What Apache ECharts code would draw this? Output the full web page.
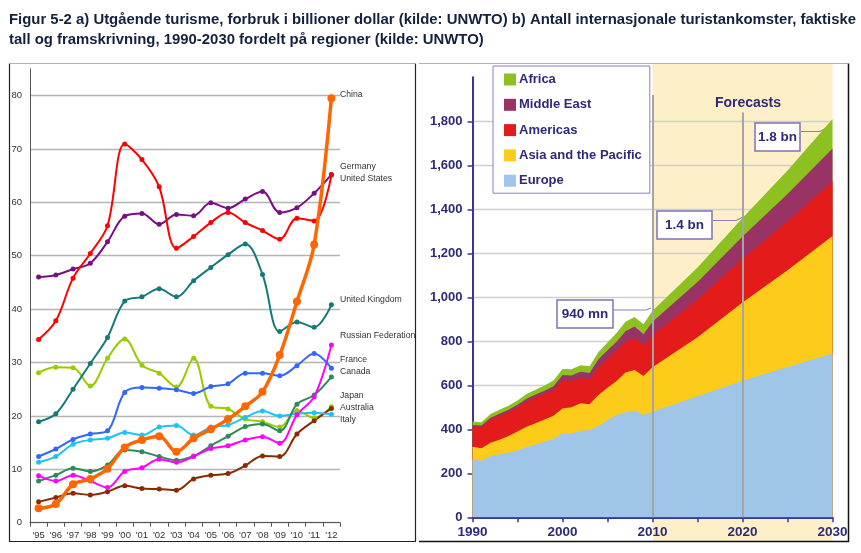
<!DOCTYPE html>
<html><head><meta charset="utf-8">
<script src="https://cdn.jsdelivr.net/npm/echarts@6/dist/echarts.min.js"></script>
<style>html,body{margin:0;padding:0;background:#fff}#c{width:861px;height:553px}</style>
</head><body><div id="c"></div>
<script>
// ---------- Panel a: outbound tourism spending (billion USD) ----------
const leftCats = ["'95","'96","'97","'98","'99","'00","'01","'02","'03","'04","'05","'06","'07","'08","'09","'10","'11","'12"];
const china     = [2.7, 3.5, 7.2, 8.2, 10.1, 14.1, 15.5, 16.2, 13.3, 15.8, 17.5, 19.4, 21.8, 24.5, 31.4, 41.4, 52.1, 79.5];
const germany   = [46.0, 46.4, 47.5, 48.6, 52.6, 57.4, 57.9, 55.9, 57.7, 57.5, 59.9, 58.9, 60.6, 62.0, 58.1, 59.0, 61.7, 65.2];
const usa       = [34.3, 37.8, 45.8, 50.4, 55.6, 70.9, 68.0, 62.9, 51.4, 53.6, 56.2, 58.1, 56.2, 54.7, 53.1, 57.0, 56.5, 65.1];
const uk        = [18.9, 20.4, 25.0, 29.8, 34.7, 41.5, 42.3, 43.8, 42.3, 45.3, 47.8, 50.2, 52.2, 46.5, 35.8, 37.6, 36.6, 40.8];
const russia    = [8.8, 7.8, 8.9, 7.8, 6.6, 9.6, 10.3, 11.9, 11.3, 12.4, 13.9, 14.4, 15.5, 16.1, 14.9, 20.2, 23.6, 33.3];
const france    = [12.4, 13.8, 15.6, 16.6, 17.2, 24.4, 25.3, 25.2, 24.9, 24.2, 25.5, 26.0, 28.0, 28.0, 27.5, 29.4, 31.7, 28.9];
const canada    = [7.8, 8.9, 10.2, 9.6, 10.8, 13.6, 13.3, 12.4, 11.7, 12.5, 14.4, 16.2, 18.0, 18.5, 17.2, 22.2, 23.9, 27.3];
const japan     = [28.1, 29.1, 29.0, 25.6, 30.8, 34.4, 29.5, 28.0, 25.4, 30.8, 21.8, 21.3, 19.4, 18.9, 17.9, 21.0, 19.6, 21.7];
const australia = [3.9, 4.7, 5.5, 5.2, 5.8, 6.9, 6.4, 6.3, 6.1, 8.2, 8.9, 9.2, 10.7, 12.5, 12.4, 16.6, 19.1, 21.4];
const italy     = [11.3, 12.4, 14.7, 15.5, 15.8, 16.9, 16.4, 17.9, 18.2, 16.4, 17.9, 18.3, 19.7, 20.9, 20.0, 20.4, 20.6, 20.3];
const leftTicks = [0, 10, 20, 30, 40, 50, 60, 70, 80];

// ---------- Panel b: international tourist arrivals (millions) ----------
const regionYears = [1990,1991,1992,1993,1994,1995,1996,1997,1998,1999,2000,2001,2002,2003,2004,2005,2006,2007,2008,2009,2010,2015,2020,2025,2030];
const europe   = [263,257,279,287,294,305,320,331,345,356,382,382,392,397,415,442,465,478,485,465,480,550,621,683,744];
const asiaPac  = [58,57,60,66,76,85,92,97,100,106,113,118,126,117,141,147,155,180,184,177,202,268,355,440,535];
const americas = [91,95,105,108,108,109,113,115,115,116,128,120,115,112,126,132,137,141,145,138,147,172,199,222,248];
const midEast  = [8,8,9,10,11,13,14,15,15,18,24,25,29,30,36,38,41,47,53,52,60,80,101,124,149];
const africa   = [15,15,17,18,18,19,21,22,24,26,27,28,29,31,33,36,40,43,44,45,50,66,85,107,134];
const rightYTicks = [0,200,400,600,800,1000,1200,1400,1600,1800];
const rightXTicks = [1990,2000,2010,2020,2030];

const NAVY = '#2e2a78';
const ARIAL = "'Liberation Sans',Arial,sans-serif";

function ls(name, data, color, width, size, z) {
  return {type:'line', name, data, xAxisIndex:0, yAxisIndex:0, smooth:0.35,
    symbol:'circle', symbolSize:size, showSymbol:true,
    lineStyle:{color, width}, itemStyle:{color}, z: z||2, animation:false};
}
// regions stacked bottom-up; each band drawn as the cumulative total from 0, back to front
const regionsBottomUp = [
  {name:'Europe', vals:europe, color:'#9fc5e8'},
  {name:'Asia and the Pacific', vals:asiaPac, color:'#fdcc1a'},
  {name:'Americas', vals:americas, color:'#e31b1b'},
  {name:'Middle East', vals:midEast, color:'#993366'},
  {name:'Africa', vals:africa, color:'#8dc021'}
];
const areaSeries = [];
for (let k = regionsBottomUp.length - 1; k >= 0; k--) {
  const r = regionsBottomUp[k];
  const cum = regionYears.map((y, i) => {
    let s = 0; for (let j = 0; j <= k; j++) s += regionsBottomUp[j].vals[i];
    return [y, s];
  });
  areaSeries.push({type:'line', name:r.name, xAxisIndex:1, yAxisIndex:1, data:cum,
    symbol:'none', showSymbol:false, lineStyle:{width:0}, itemStyle:{color:r.color},
    areaStyle:{color:r.color, opacity:1}, animation:false, z:2});
}
areaSeries[areaSeries.length - 1].markLine = {silent:true, symbol:'none', animation:false, label:{show:false},
  lineStyle:{color:'#a5a5a5', width:2, type:'solid'},
  data:[[{coord:[2010,0]},{coord:[2010,1920]}],[{coord:[2020,0]},{coord:[2020,1840]}]]};

const chart = echarts.init(document.getElementById('c'), null, {renderer:'canvas'});
const option = {
  backgroundColor:'#fff',
  animation:false,
  title:{text:'Figur 5-2 a) Utgående turisme, forbruk i billioner dollar (kilde: UNWTO) b) Antall internasjonale turistankomster, faktiske\ntall og framskrivning, 1990-2030 fordelt på regioner (kilde: UNWTO)',
    left:4, top:5, textStyle:{fontSize:14.9, fontWeight:'bold', lineHeight:20, color:'#13213f', fontFamily:ARIAL}},
  legend:{data:['Africa','Middle East','Americas','Asia and the Pacific','Europe'],
    orient:'vertical', left:493, top:66, itemWidth:12, itemHeight:12, itemGap:12.3,
    icon:'rect', padding:[7,8,6,11], backgroundColor:'#fff', borderColor:'#8a80c0', borderWidth:1,
    textStyle:{fontSize:13, fontWeight:'bold', color:NAVY, fontFamily:ARIAL, padding:[0,0,0,-2]}, selectedMode:false},
  grid:[{left:30, right:521, top:68.8, bottom:30.3},
        {left:472.5, right:28.5, top:77.3, bottom:35.7}],
  xAxis:[
    {type:'category', gridIndex:0, data:leftCats, boundaryGap:true,
     axisLine:{lineStyle:{color:'#555', width:1}}, axisTick:{show:true, length:4, lineStyle:{color:'#555'}},
     axisLabel:{color:'#333', fontSize:9.5, fontFamily:ARIAL, margin:8}},
    {type:'value', gridIndex:1, min:1990, max:2030, interval:5,
     axisLine:{lineStyle:{color:'#3d3594', width:2}}, axisTick:{show:true, length:5, lineStyle:{color:'#3d3594', width:1.5}},
     splitLine:{show:false},
     axisLabel:{color:NAVY, fontSize:13.5, fontWeight:'bold', fontFamily:ARIAL, margin:8,
       formatter:v=> rightXTicks.includes(v) ? String(v) : ''}}
  ],
  yAxis:[
    {type:'value', gridIndex:0, min:0, max:85, interval:10,
     axisLine:{show:true, lineStyle:{color:'#555', width:1}}, axisTick:{show:false},
     splitLine:{show:true, showMaxLine:false, lineStyle:{color:'#b4b4b4', width:1.3}},
     axisLabel:{color:'#333', fontSize:9.5, fontFamily:ARIAL, margin:8, showMaxLabel:false,
       formatter:v=> leftTicks.includes(v) ? String(v) : ''}},
    {type:'value', gridIndex:1, min:0, max:2000, interval:200,
     axisLine:{show:true, lineStyle:{color:'#3d3594', width:2}}, axisTick:{show:true, length:5, lineStyle:{color:'#3d3594', width:1.5}},
     splitLine:{show:true, showMaxLine:false, lineStyle:{color:'#cfcfcf', width:1.3}},
     axisLabel:{color:NAVY, fontSize:13, fontWeight:'bold', fontFamily:ARIAL, margin:10, showMaxLabel:false,
       formatter:v=> rightYTicks.includes(v) ? v.toLocaleString('en-US') : ''}}
  ],
  series:[
    ls('Japan', japan, '#99cc00', 2, 5),
    ls('Australia', australia, '#8b2a00', 2, 5),
    ls('Italy', italy, '#1ec3f5', 2, 5),
    ls('Canada', canada, '#2e8b57', 2, 5),
    ls('Russian Federation', russia, '#ff00ff', 2, 5),
    ls('France', france, '#3366ff', 2, 5),
    ls('United Kingdom', uk, '#137a78', 2, 5),
    ls('Germany', germany, '#7a0f85', 2, 5),
    ls('United States', usa, '#ff0000', 2, 5),
    ls('China', china, '#ff6600', 3.5, 8, 3)
  ].concat(areaSeries)
};
chart.setOption(option);

const x2010 = chart.convertToPixel({xAxisIndex:1}, 2010);
const x2030 = chart.convertToPixel({xAxisIndex:1}, 2030);
const lbl = (t, y) => ({type:'text', left:340, top:y-6, silent:true,
  style:{text:t, font:"8.7px 'Liberation Sans', Arial", fill:'#333'}});
const box = (t, x, y, w, h) => ({type:'group', silent:true, children:[
  {type:'rect', shape:{x, y, width:w, height:h}, style:{fill:'#fff', stroke:'#7d72b8', lineWidth:1.5}},
  {type:'text', x:x+w/2, y:y+h/2, style:{text:t, align:'center', verticalAlign:'middle',
     font:"bold 13.5px " + ARIAL, fill:NAVY}}]});
const lead = pts => ({type:'polyline', silent:true, shape:{points:pts}, style:{stroke:'#8a80c0', lineWidth:1.2, fill:null}});
chart.setOption({graphic:[
  {type:'rect', z:-10, silent:true, shape:{x:x2010, y:63, width:x2030-x2010, height:479}, style:{fill:'#fdf0c9'}},
  {type:'polyline', silent:true, shape:{points:[[9.5,63.5],[9.5,541.5],[415.5,541.5],[415.5,63.5]]}, style:{stroke:'#222', lineWidth:1.2, fill:null}},
  {type:'line', silent:true, shape:{x1:9.5,y1:63.5,x2:415.5,y2:63.5}, style:{stroke:'#b0b0b0', lineWidth:1}},
  {type:'line', silent:true, shape:{x1:419,y1:63.5,x2:848,y2:63.5}, style:{stroke:'#b0b0b0', lineWidth:1}},
  {type:'polyline', silent:true, shape:{points:[[419,541.5],[848.5,541.5],[848.5,63.5]]}, style:{stroke:'#111', lineWidth:1.5, fill:null}},
  lbl('China', 96), lbl('Germany', 168), lbl('United States', 180), lbl('United Kingdom', 301),
  lbl('Russian Federation', 337), lbl('France', 361), lbl('Canada', 373),
  lbl('Japan', 397), lbl('Australia', 409), lbl('Italy', 421),
  {type:'text', silent:true, x:748, y:103, style:{text:'Forecasts', align:'center', verticalAlign:'middle', font:"bold 14px " + ARIAL, fill:NAVY}},
  box('1.8 bn', 755, 123, 45, 28),
  box('1.4 bn', 657, 211, 55, 28),
  box('940 mn', 557, 300, 56, 28),
  lead([[801,131.5],[820,131.5],[828,127]]),
  lead([[713,220.5],[736,220.5],[743,217]]),
  lead([[614,310],[646,310],[651,308]])
]});
</script>
</body></html>
